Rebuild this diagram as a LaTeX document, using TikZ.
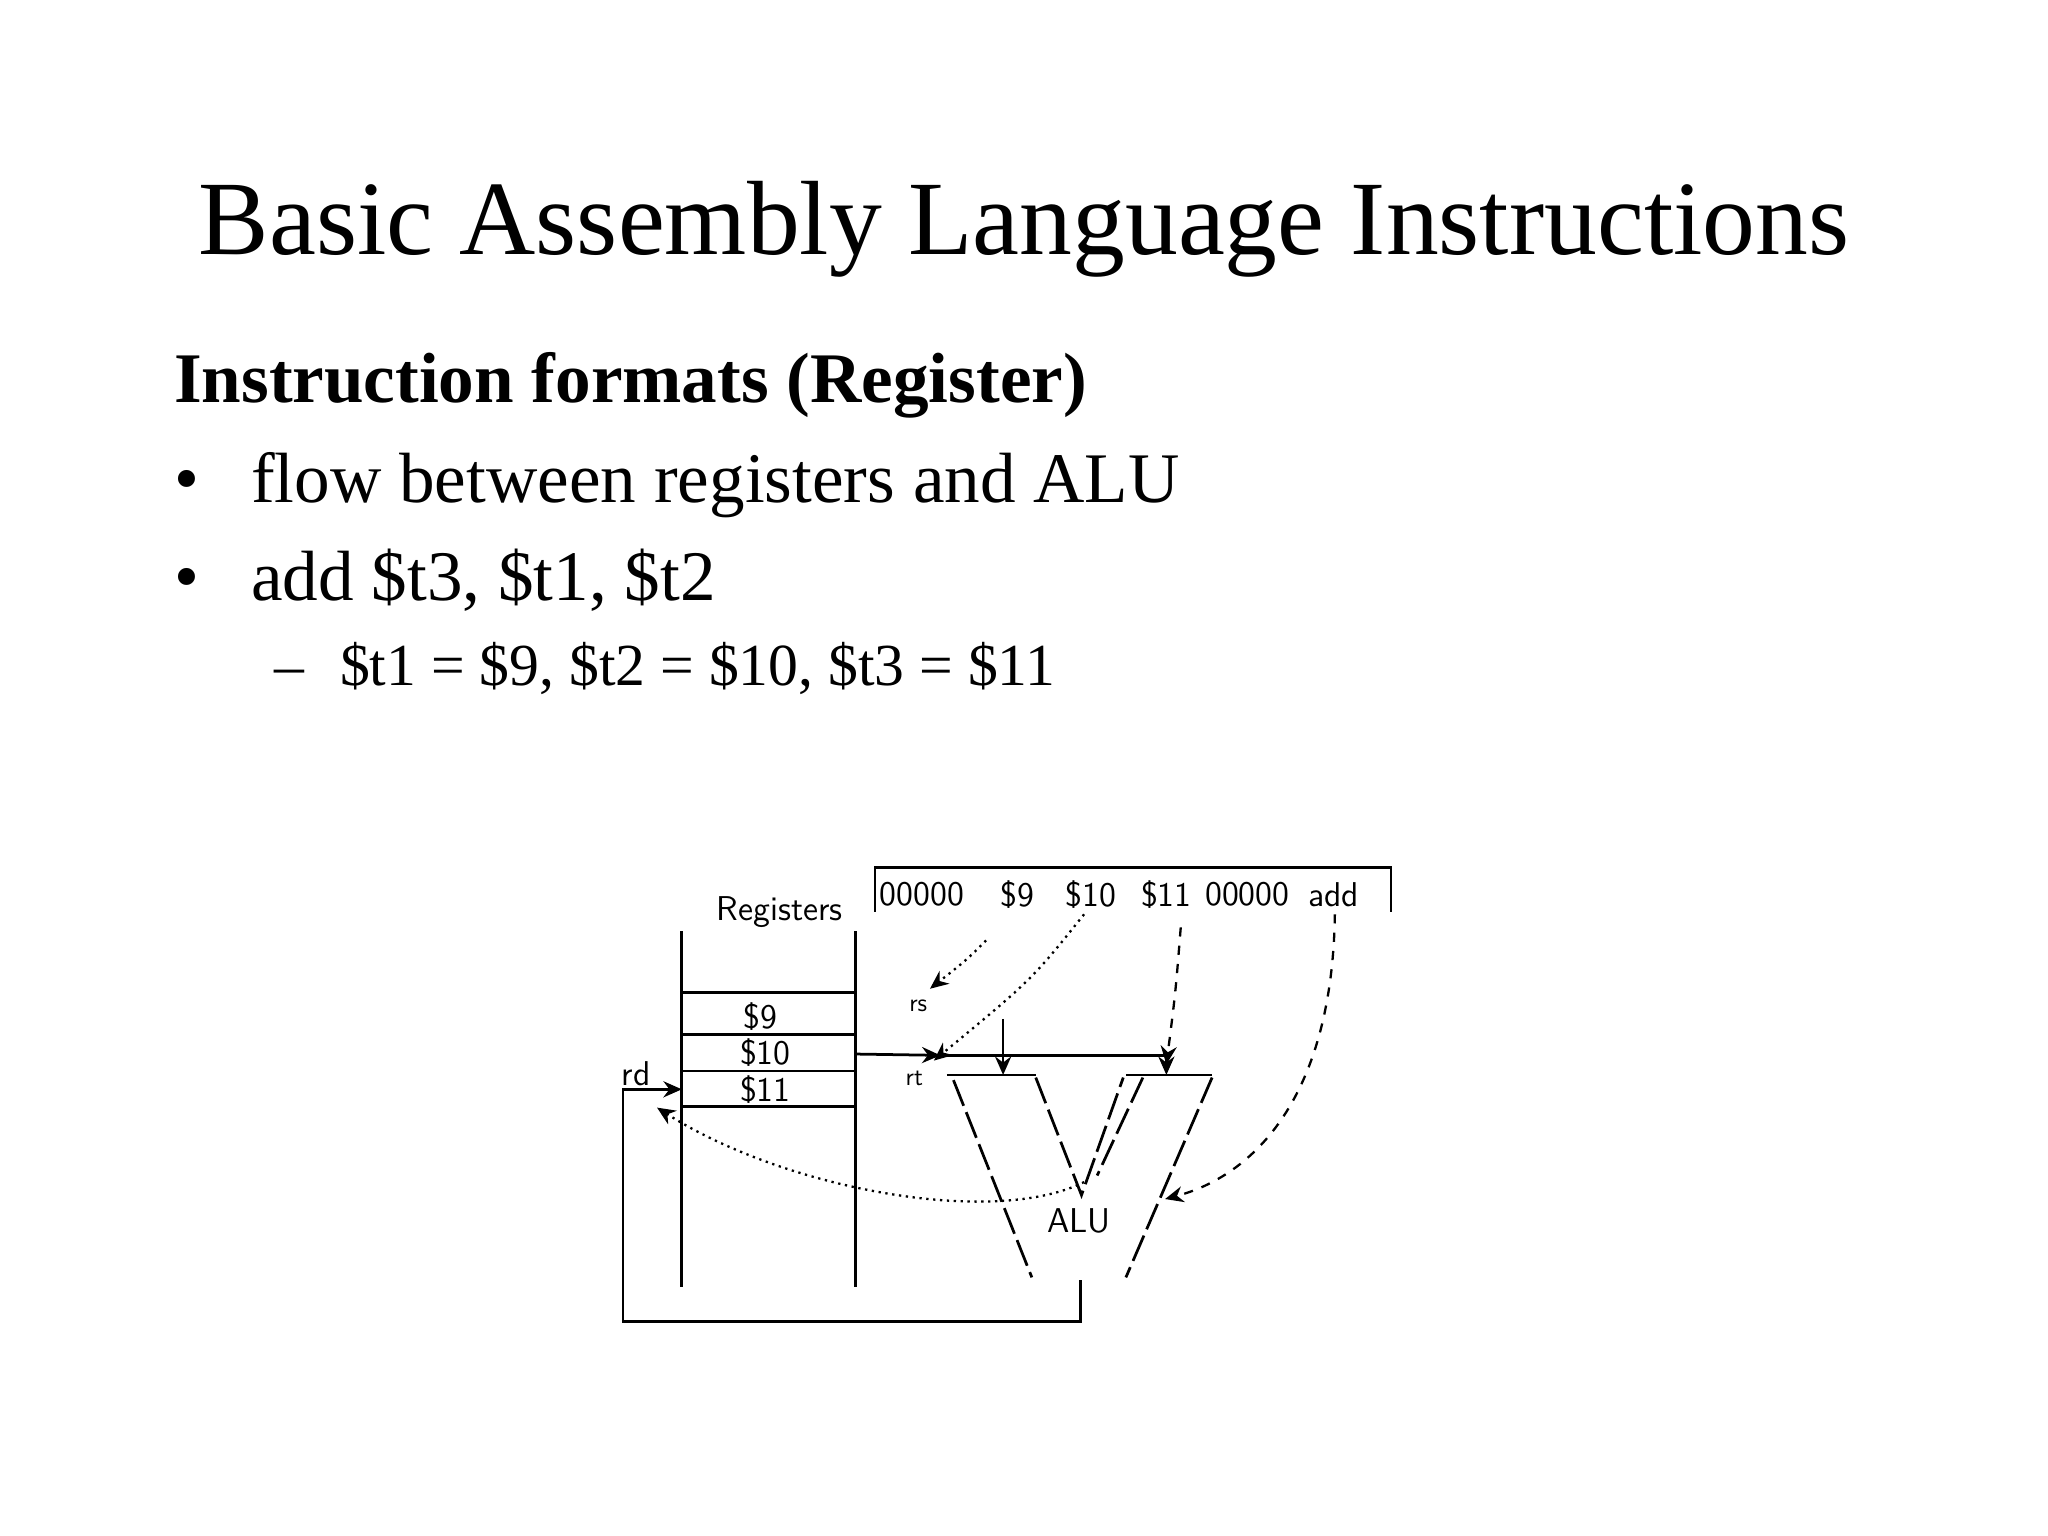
\documentclass[tikz,border=0pt]{standalone}
\usepackage{fontspec}
\setmainfont{Liberation Serif}
\usetikzlibrary{arrows.meta}
\begin{document}
\begin{tikzpicture}[x=0.02cm,y=-0.02cm,
  ln/.style={line width=1.2pt},
  dt/.style={line width=1pt,dotted},
  ds/.style={line width=1pt,dashed,dash pattern=on 4pt off 4pt},
  tip/.style={-{Stealth[length=8pt,width=7pt]}},
  lbl/.style={font=\fontsize{15}{15}\selectfont\sffamily,inner sep=0pt}]
\useasboundingbox (0,0) rectangle (1568,1176);
\node[anchor=base,inner sep=0] (title) at (784,195) {\fontsize{46}{50}\selectfont Basic Assembly Language Instructions};
\node[anchor=base west,inner sep=0] (sub) at (133,308) {\fontsize{31}{34}\selectfont\bfseries Instruction formats (Register)};
\node[anchor=base west,inner sep=0] (b1) at (133,385) {\fontsize{31}{34}\selectfont\textbullet};
\node[anchor=base west,inner sep=0] (t1) at (192,385) {\fontsize{31}{34}\selectfont flow between registers and ALU};
\node[anchor=base west,inner sep=0] (b2) at (133,460) {\fontsize{31}{34}\selectfont\textbullet};
\node[anchor=base west,inner sep=0] (t2) at (192,460) {\fontsize{31}{34}\selectfont add \$t3, \$t1, \$t2};
\node[anchor=base west,inner sep=0] (d3) at (210,525) {\fontsize{26}{30}\selectfont --};
\node[anchor=base west,inner sep=0] (t3) at (260,525) {\fontsize{26}{30}\selectfont \$t1 = \$9, \$t2 = \$10, \$t3 = \$11};
% registers
\node[lbl] (reglbl) at (597,698) {Registers};
\draw[ln] (522,713) -- (522,985) (655,713) -- (655,985);
\foreach \y in {760,792,820,847} \draw[ln] (522,\y) -- (655,\y);
\node[lbl] (r9) at (582,778) {\$9};
\node[lbl] (r10) at (586,806) {\$10};
\node[lbl] (r11) at (586,834) {\$11};
% instruction
\draw[ln] (670,698) -- (670,664) -- (1065,664) -- (1065,698);
\node[lbl] (f1) at (706,685) {00000};
\node[lbl] (f2) at (779,685) {\$9};
\node[lbl] (f3) at (835,685) {\$10};
\node[lbl] (f4) at (893,685) {\$11};
\node[lbl] (f5) at (955,685) {00000};
\node[lbl] (f6) at (1021,685) {add};
% ALU
\draw[ln] (725,823) -- (793,823) (862,823) -- (928,823);
\draw[ln,dashed,dash pattern=on 12pt off 3pt] (730,827) -- (790,978) (793,825) -- (828,915) -- (860,825) (928,825) -- (862,978) (875,825) -- (840,900);
\node[lbl] (alu) at (826,935) {ALU};
% buses
\coordinate (rsin) at (720,808);
\draw[ln,tip] (655,807) -- (rsin);
\draw[ln] (rsin) -- (893,808);
\coordinate (in1) at (768,823);
\coordinate (in2) at (893,823);
\draw[ln,tip] (768,780) -- (in1);
\draw[ln,tip] (893,808) -- (in2);
\node[lbl,font=\fontsize{11}{11}\selectfont\sffamily] (rs) at (703,770) {rs};
\node[lbl,font=\fontsize{11}{11}\selectfont\sffamily] (rt) at (700,826) {rt};
\node[lbl] (rd) at (487,822) {rd};
\coordinate (rdin) at (522,834);
\coordinate (aluout) at (827,980);
\draw[ln,tip] (aluout) -- (827,1012) -- (477,1012) -- (477,834) -- (rdin);
% control
\draw[dt,tip] (755,720) .. controls (740,735) .. (712,757);
\draw[dt,tip] (830,700) .. controls (790,750) .. (715,812);
\draw[ds,tip] (904,710) .. controls (900,760) .. (893,815);
\draw[ds,tip] (1022,700) .. controls (1020,840) and (960,900) .. (892,918);
\draw[dt,tip] (830,905) .. controls (760,940) and (600,910) .. (503,848);
\end{tikzpicture}
\end{document}
